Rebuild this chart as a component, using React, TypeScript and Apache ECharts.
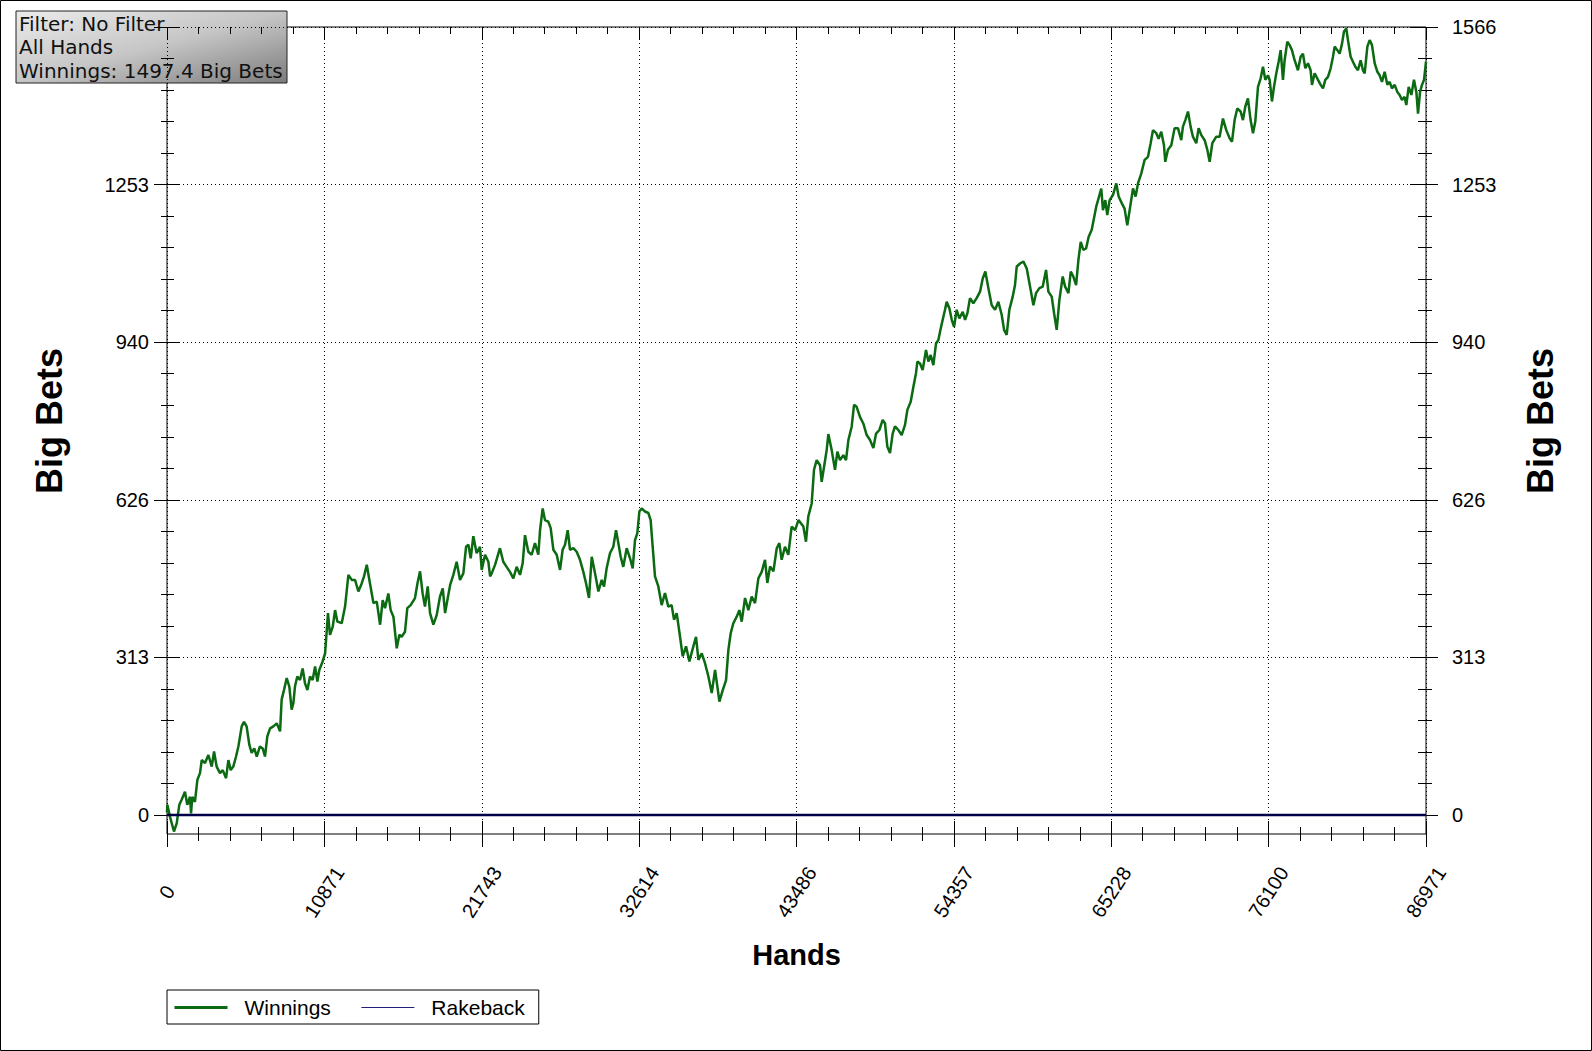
import React, { useEffect, useRef } from "react";
import * as echarts from "echarts";

// ---- data ----
const xMax = 86971;
const xInterval = 10871.375;
const yMax = 1566;
const yInterval = 313.2;
const yDataMin = -38;

const xTickLabels = ["0", "10871", "21743", "32614", "43486", "54357", "65228", "76100", "86971"];
const yTickLabels = ["0", "313", "626", "940", "1253", "1566"];

const infoLines = ["Filter: No Filter", "All Hands", "Winnings: 1497.4 Big Bets"];

// [hands, big bets]
const winningsPart1 = [
  [0, 5], [23, 20], [200, -3], [480, -33], [670, -17], [850, 20], [1010, 30], [1240, 46], [1400, 20],
  [1590, 36], [1660, 3], [1750, 36], [1930, 26], [2100, 70], [2280, 83], [2400, 109], [2625, 103],
  [2860, 119], [3090, 96], [3250, 126], [3430, 96], [3660, 83], [3850, 89], [4080, 73], [4240, 109],
  [4400, 89], [4580, 96], [4770, 116], [4930, 136], [5160, 176], [5320, 185], [5500, 176], [5690, 139],
  [5850, 123], [6030, 132], [6200, 116], [6420, 136], [6610, 132], [6770, 116], [6930, 156], [7120, 172],
  [7350, 176], [7580, 182], [7810, 166], [7920, 229], [8080, 248], [8270, 272], [8450, 255], [8610, 209],
  [8730, 222], [8840, 255], [9000, 275], [9190, 268], [9370, 291], [9530, 262], [9700, 248], [9880, 275],
  [10060, 268], [10230, 295], [10390, 265], [10520, 288], [10750, 305], [10920, 321], [11030, 364],
  [11120, 401], [11260, 358], [11450, 374], [11610, 407], [11770, 384], [12070, 381], [12300, 414],
  [12530, 477], [12760, 467], [12990, 467], [13220, 444], [13450, 460], [13610, 474], [13800, 497],
  [13980, 467], [14260, 421], [14490, 424], [14720, 378], [14900, 427], [15060, 411], [15290, 440],
  [15450, 407], [15640, 394], [15870, 331], [16050, 358], [16210, 354], [16440, 364], [16600, 411],
  [16830, 417], [17130, 431], [17300, 460], [17480, 484], [17660, 440], [17820, 414], [18010, 454],
  [18170, 401], [18400, 378], [18630, 397], [18860, 434], [19050, 450], [19210, 401], [19370, 427],
  [19560, 457], [19780, 477], [20010, 503], [20240, 467], [20470, 480], [20660, 533], [20820, 537],
  [20980, 510], [21160, 554], [21390, 520], [21620, 533], [21740, 487], [21970, 517], [22200, 503],
  [22320, 474],
];

const winningsPart2 = [
  [22430, 480], [22660, 497], [23000, 530], [23230, 503], [23460, 493], [23690, 483], [23925, 470],
  [24155, 493], [24385, 477], [24570, 500], [24730, 556], [24960, 523], [25190, 517], [25420, 540],
  [25650, 517], [25770, 566], [25950, 609], [26110, 586], [26340, 583], [26505, 570], [26690, 527],
  [26920, 517], [27150, 487], [27330, 527], [27495, 537], [27680, 566], [27840, 527], [28070, 530],
  [28300, 523], [28530, 507], [28760, 483], [28950, 460], [29150, 431], [29340, 513], [29570, 480],
  [29800, 444], [30030, 467], [30190, 454], [30370, 490], [30600, 520], [30830, 533], [31020, 566],
  [31180, 540], [31340, 513], [31520, 493], [31755, 530], [31985, 510], [32170, 490], [32330, 546],
  [32490, 560], [32630, 603], [32790, 609], [33020, 603], [33250, 600], [33410, 586], [33550, 533],
  [33710, 474], [33940, 454], [34170, 417], [34400, 441], [34630, 414], [34860, 417], [35025, 388],
  [35210, 401], [35440, 354], [35625, 315], [35855, 335], [36085, 305], [36360, 335], [36545, 354],
  [36710, 308], [36940, 321], [37170, 301], [37400, 275], [37630, 242], [37860, 288], [38020, 255],
  [38160, 225], [38390, 248], [38620, 268], [38780, 328], [38940, 361], [39125, 381], [39355, 394],
  [39540, 407], [39700, 384], [39930, 431], [40160, 407], [40390, 434], [40620, 421], [40850, 470],
  [41080, 483], [41310, 507], [41470, 461], [41660, 494], [41890, 484], [42120, 530], [42300, 540],
  [42460, 507], [42690, 533], [42920, 517], [43150, 573], [43390, 566], [43620, 586],
];

const winningsPart3 = [
  [43960, 573], [44140, 543], [44300, 593], [44535, 619], [44695, 686], [44880, 705], [45110, 695],
  [45225, 662], [45390, 692], [45570, 725], [45685, 757], [45915, 725], [46145, 686], [46310, 722],
  [46490, 705], [46720, 715], [46906, 705], [47070, 745], [47300, 772], [47460, 815], [47640, 811],
  [47870, 791], [48100, 778], [48335, 755], [48565, 745], [48795, 729], [48980, 758], [49210, 765],
  [49440, 785], [49600, 778], [49760, 732], [49945, 719], [50130, 758], [50290, 772], [50520, 765],
  [50750, 755], [50980, 775], [51145, 805], [51375, 821], [51560, 851], [51740, 878], [51835, 901],
  [52020, 897], [52200, 884], [52430, 924], [52595, 901], [52755, 914], [52940, 894], [53125, 937],
  [53285, 944], [53450, 967], [53585, 984], [53745, 1004], [53860, 1020], [54045, 1007], [54210, 984],
  [54370, 970], [54550, 1004], [54735, 987], [54970, 1000], [55130, 984], [55290, 997], [55470, 1027],
  [55700, 1017], [55930, 1027], [56165, 1040], [56350, 1066], [56530, 1080], [56740, 1047],
  [56970, 1013], [57200, 1004], [57430, 1020], [57660, 994], [57825, 964], [58005, 954], [58190, 1004],
  [58420, 1030], [58580, 1053], [58700, 1090], [58928, 1096], [59160, 1100], [59390, 1086],
  [59620, 1050], [59850, 1013], [60030, 1037], [60265, 1047], [60495, 1050], [60725, 1083],
  [60885, 1040], [61115, 1030], [61280, 997], [61460, 964], [61645, 1023], [61875, 1070], [62040, 1050],
  [62270, 1037], [62430, 1080], [62610, 1070], [62800, 1053], [62960, 1103], [63120, 1139],
  [63300, 1123], [63490, 1126], [63670, 1149], [63880, 1163], [64200, 1210],
];

const winningsPart4 = [
  [64540, 1245], [64655, 1202], [64815, 1222], [64955, 1192], [65115, 1222], [65345, 1232],
  [65575, 1255], [65740, 1229], [65970, 1215], [66150, 1205], [66335, 1172], [66500, 1202],
  [66730, 1245], [66910, 1229], [67075, 1255], [67305, 1275], [67535, 1302], [67765, 1308],
  [67950, 1335], [68110, 1361], [68340, 1355], [68500, 1344], [68685, 1358], [68870, 1331],
  [68960, 1298], [69145, 1322], [69375, 1331], [69605, 1365], [69835, 1365], [70065, 1341],
  [70180, 1368], [70345, 1381], [70530, 1398], [70710, 1368], [70870, 1348], [71100, 1335],
  [71265, 1365], [71450, 1351], [71680, 1341], [71865, 1322], [72025, 1298], [72210, 1335],
  [72485, 1348], [72715, 1348], [72945, 1384], [73175, 1361], [73405, 1345], [73570, 1338],
  [73750, 1381], [73935, 1404], [74165, 1398], [74325, 1381], [74490, 1408], [74670, 1424],
  [74855, 1381], [75020, 1355], [75180, 1378], [75365, 1447], [75550, 1464], [75710, 1487],
  [75870, 1461], [76055, 1470], [76170, 1461], [76330, 1418], [76470, 1447], [76630, 1474],
  [76790, 1497], [76930, 1520], [77090, 1461], [77205, 1500], [77390, 1537], [77550, 1530],
  [77710, 1520], [77895, 1500], [78125, 1480], [78310, 1507], [78470, 1513], [78635, 1484],
  [78820, 1494], [79000, 1480], [79095, 1451], [79280, 1474], [79510, 1461], [79695, 1451],
  [79855, 1444], [80015, 1461], [80200, 1467], [80385, 1484], [80545, 1507], [80660, 1527],
  [80845, 1520], [81005, 1513], [81170, 1533], [81305, 1557], [81465, 1563], [81580, 1540],
  [81765, 1507], [81925, 1497], [82090, 1487], [82270, 1480], [82455, 1500], [82615, 1480],
  [82735, 1474], [82920, 1527], [83080, 1540], [83240, 1530], [83425, 1494], [83610, 1477],
  [83770, 1470], [83930, 1457], [84115, 1477], [84300, 1451], [84460, 1457], [84620, 1444],
  [84805, 1451], [84990, 1437], [85150, 1431], [85310, 1421], [85495, 1427], [85610, 1411],
  [85775, 1447], [85960, 1431], [86140, 1461], [86305, 1437], [86420, 1394], [86560, 1437],
  [86695, 1451], [86835, 1461], [86971, 1497.4],
];

const rakebackPoints = [
  [0, 0],
  [86971, 0],
];

const FONT = "'Liberation Sans', Arial, sans-serif";
const GREEN = "#0b6a12";
const NAVY = "#00004a";

export default function App() {
  const ref = useRef<HTMLDivElement>(null);

  useEffect(() => {
    document.body.style.margin = "0";
    if (!ref.current) return;
    const chart = echarts.init(ref.current, null, { renderer: "svg" });

    const winnings = [...winningsPart1, ...winningsPart2, ...winningsPart3, ...winningsPart4];

    const xBase = {
      type: "value",
      gridIndex: 0,
      min: 0,
      max: xMax,
      interval: xInterval,
      axisLine: { show: false, onZero: false },
      splitLine: { show: false },
      axisLabel: { show: false },
    };
    const tickLine = { color: "#000", width: 1 };

    const yBase = {
      type: "value",
      gridIndex: 1,
      min: 0,
      max: yMax,
      interval: yInterval,
      axisLine: { show: false, onZero: false },
      splitLine: { show: false },
      axisLabel: { show: false },
    };

    const option: any = {
      animation: false,
      backgroundColor: "#fff",
      grid: [
        {
          left: 167,
          right: 166,
          top: 27,
          bottom: 217,
          show: true,
          borderColor: "#000",
          borderWidth: 1,
          backgroundColor: "transparent",
        },
        { left: 167, right: 166, top: 27, bottom: 236, show: false },
      ],
      xAxis: [
        {
          ...xBase,
          position: "bottom",
          axisTick: { show: true, inside: false, length: 13, lineStyle: tickLine },
          minorTick: { show: true, splitNumber: 5, length: 7, lineStyle: tickLine },
          axisLabel: {
            show: true,
            rotate: 57,
            align: "center",
            verticalAlign: "middle",
            margin: 58,
            fontSize: 20,
            fontFamily: FONT,
            color: "#000",
            formatter: (_v: number, i: number) => xTickLabels[i],
          },
          splitLine: { show: true, lineStyle: { color: "#000", width: 1, type: [1, 3] } },
          name: "Hands",
          nameLocation: "middle",
          nameGap: 106,
          nameTextStyle: { fontSize: 29, fontWeight: "bold", fontFamily: FONT, color: "#000" },
        },
        {
          ...xBase,
          position: "bottom",
          axisTick: { show: true, inside: true, length: 13, lineStyle: tickLine },
          minorTick: { show: true, splitNumber: 5, length: 7, lineStyle: tickLine },
        },
        {
          ...xBase,
          position: "top",
          axisTick: { show: true, inside: true, length: 13, lineStyle: tickLine },
          minorTick: { show: true, splitNumber: 5, length: 7, lineStyle: tickLine },
        },
        { type: "value", gridIndex: 1, min: 0, max: xMax, show: false },
      ],
      yAxis: [
        { type: "value", gridIndex: 0, min: yDataMin, max: yMax, show: false },
        {
          ...yBase,
          position: "left",
          axisTick: { show: true, inside: false, length: 13, lineStyle: tickLine },
          minorTick: { show: true, splitNumber: 5, length: 6, lineStyle: tickLine },
          axisLabel: {
            show: true,
            showMaxLabel: false,
            margin: 18,
            fontSize: 20,
            fontFamily: FONT,
            color: "#000",
            formatter: (_v: number, i: number) => yTickLabels[i],
          },
          splitLine: { show: true, lineStyle: { color: "#000", width: 1, type: [1, 3] } },
          name: "Big Bets",
          nameLocation: "middle",
          nameRotate: 90,
          nameGap: 100,
          nameTextStyle: { fontSize: 36, fontWeight: "bold", fontFamily: FONT, color: "#000" },
        },
        {
          ...yBase,
          position: "left",
          axisTick: { show: true, inside: true, length: 13, lineStyle: tickLine },
          minorTick: { show: true, splitNumber: 5, length: 7, lineStyle: tickLine },
        },
        {
          ...yBase,
          position: "right",
          axisTick: { show: true, inside: false, length: 12, lineStyle: tickLine },
          minorTick: { show: true, splitNumber: 5, length: 6, lineStyle: tickLine },
          axisLabel: {
            show: true,
            margin: 26,
            fontSize: 20,
            fontFamily: FONT,
            color: "#000",
            formatter: (_v: number, i: number) => yTickLabels[i],
          },
          name: "Big Bets",
          nameLocation: "middle",
          nameRotate: 90,
          nameGap: 96,
          nameTextStyle: { fontSize: 36, fontWeight: "bold", fontFamily: FONT, color: "#000" },
        },
        {
          ...yBase,
          position: "right",
          axisTick: { show: true, inside: true, length: 16, lineStyle: tickLine },
          minorTick: { show: true, splitNumber: 5, length: 8, lineStyle: tickLine },
        },
      ],
      legend: {
        left: 167,
        top: 990,
        orient: "horizontal",
        padding: [7, 14, 6, 6],
        itemGap: 30,
        itemWidth: 53,
        itemHeight: 14,
        borderColor: "#000",
        borderWidth: 1,
        borderRadius: 0,
        backgroundColor: "#fff",
        textStyle: { fontSize: 21, fontFamily: FONT, color: "#000", padding: [0, 0, 0, 12] },
        data: [
          { name: "Winnings", itemStyle: { opacity: 0 }, lineStyle: { width: 3, color: GREEN, opacity: 1 } },
          { name: "Rakeback", itemStyle: { opacity: 0 }, lineStyle: { width: 1, color: "#20207a", opacity: 1 } },
        ],
      },
      graphic: [
        {
          type: "rect",
          silent: true,
          z: 100,
          shape: { x: 0.5, y: 0.5, width: 1591, height: 1050 },
          style: { fill: "none", stroke: "#000", lineWidth: 1 },
        },
        {
          type: "group",
          x: 16,
          y: 11,
          z: 100,
          children: [
            {
              type: "rect",
              shape: { x: 0, y: 0, width: 271, height: 72 },
              style: {
                fill: new echarts.graphic.LinearGradient(0, 0, 1, 1, [
                  { offset: 0, color: "#ebebeb" },
                  { offset: 0.5, color: "#c6c6c6" },
                  { offset: 1, color: "#7c7c7c" },
                ]),
                stroke: "#222",
                lineWidth: 1,
              },
            },
            ...infoLines.map((t, i) => ({
              type: "text",
              x: 3,
              y: 13 + i * 23.3,
              style: {
                text: t,
                font: "20px 'DejaVu Sans', Verdana, sans-serif",
                fill: "#111",
                verticalAlign: "middle",
                align: "left",
              },
            })),
          ],
        },
      ],
      series: [
        {
          name: "Winnings",
          type: "line",
          xAxisIndex: 0,
          yAxisIndex: 0,
          data: winnings,
          symbol: "none",
          showSymbol: false,
          lineStyle: { color: GREEN, width: 2.5 },
          itemStyle: { color: GREEN },
          z: 2,
        },
        {
          name: "Rakeback",
          type: "line",
          xAxisIndex: 0,
          yAxisIndex: 0,
          data: rakebackPoints,
          symbol: "none",
          showSymbol: false,
          lineStyle: { color: NAVY, width: 2.5 },
          itemStyle: { color: NAVY },
          z: 3,
        },
      ],
    };

    chart.setOption(option);
    return () => chart.dispose();
  }, []);

  return <div ref={ref} style={{ width: 1592, height: 1051 }} />;
}
